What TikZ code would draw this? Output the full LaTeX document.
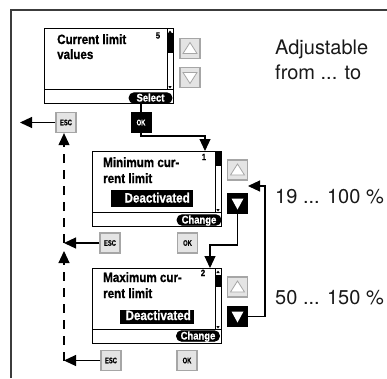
\documentclass[tikz,border=0pt]{standalone}
\usepackage{fontspec}
\setmainfont{TeX Gyre Heros}
\newfontfamily\cond[FakeStretch=0.86,FakeBold=0.8]{Liberation Sans Bold}
\newfontfamily\condx[FakeStretch=0.72,FakeBold=0.6]{Liberation Sans Bold}
\usetikzlibrary{arrows.meta}
\definecolor{btnfill}{HTML}{E4E4E4}
\definecolor{btnline}{HTML}{A6A6A6}
\definecolor{framec}{HTML}{3C3C3C}
\newcommand\lcdscreen[5]{%
  \node[scr] (#1) at (#2,#3) {};
  \draw[line width=1.2pt] (#2,#3+61.5) -- (#2+129,#3+61.5);
  \draw[line width=0.9pt] (#2+123,#3) rectangle (#2+129,#3+61.5);
  \fill (#2+123,#3+#4) rectangle (#2+129,#3+#5);
  \fill (#2+124.3,#3+58) -- (#2+127.7,#3+58) -- (#2+126,#3+60.5) -- cycle;
}
\begin{document}
\begin{tikzpicture}[x=1pt,y=-1pt,
  scr/.style={draw, line width=1.2pt, minimum width=129pt, minimum height=75pt, inner sep=0pt, anchor=north west},
  gbtn/.style={draw=btnline, fill=btnfill, line width=1.3pt, minimum width=20pt, minimum height=20pt, inner sep=0pt, font=\condx\fontsize{8}{8}\selectfont},
  kbtn/.style={fill=black, text=white, minimum width=21pt, minimum height=21pt, inner sep=0pt, font=\condx\fontsize{8}{8}\selectfont},
  pill/.style={fill=black, text=white, draw=black, line width=0.8pt, rounded corners=5pt, inner sep=0pt, minimum height=10.5pt, text height=7.5pt, text depth=0.5pt, font=\cond\fontsize{11}{11}\selectfont},
  lbl/.style={anchor=base west, inner sep=0pt, font=\cond\fontsize{13.5}{15}\selectfont},
  num/.style={anchor=base, inner sep=0pt, font=\cond\fontsize{9}{9}\selectfont},
  big/.style={anchor=base west, inner sep=0pt, text=black!90, font=\fontsize{20}{24}\selectfont},
  arr/.style={-{Triangle[length=12pt,width=11pt]}, line width=1.1pt},
  conn/.style={line width=1.1pt},
  dsh/.style={line width=1.1pt, dash pattern=on 9pt off 7pt}]
\useasboundingbox (0,0) rectangle (387,378);
% frame
\draw[framec, line width=2pt] (10.5,378) -- (10.5,9.5) -- (387,9.5);

% screens
\lcdscreen{s1}{44}{28}{5}{25}
\fill (168.3,33) -- (171.7,33) -- (170,30.5) -- cycle;
\lcdscreen{s2}{92}{151}{0}{15}
\lcdscreen{s3}{92}{268}{7}{19}
\fill (216.3,273) -- (219.7,273) -- (218,270.5) -- cycle;

% screen texts
\node[lbl] (t1a) at (57,44) {Current limit};
\node[lbl] (t1b) at (57,59) {values};
\node[num] (n1) at (158,38.5) {5};
\node[pill, minimum width=43pt] (sel) at (150.5,98) {Select};

\node[lbl] (t2a) at (103,167) {Minimum cur-};
\node[lbl] (t2b) at (103,183) {rent limit};
\node[num] (n2) at (204,160) {1};
\fill (111,189.5) rectangle (193,206.5);
\node[lbl, anchor=base east, text=white] (d2) at (190,202.5) {Deactivated};
\node[pill, minimum width=44pt] (ch2) at (199,220) {Change};

\node[lbl] (t3a) at (103,282) {Maximum cur-};
\node[lbl] (t3b) at (103,298) {rent limit};
\node[num] (n3) at (203,276) {2};
\fill (120,309.5) rectangle (194,323.5);
\node[lbl, anchor=base east, text=white] (d3) at (191,320) {Deactivated};
\node[pill, minimum width=43pt] (ch3) at (198,336) {Change};

% up/down buttons
\node[gbtn] (u1) at (190,48.5) {};
\node[gbtn] (v1) at (190,77.5) {};
\draw[btnline, fill=white, line width=0.8pt] ([shift={(-7pt,-5pt)}]u1.center) -- ([shift={(7pt,-5pt)}]u1.center) -- ([shift={(0pt,6pt)}]u1.center) -- cycle;
\draw[btnline, fill=white, line width=0.8pt] ([shift={(-7pt,5pt)}]v1.center) -- ([shift={(7pt,5pt)}]v1.center) -- ([shift={(0pt,-6pt)}]v1.center) -- cycle;

\node[gbtn] (u2) at (237.5,170) {};
\draw[btnline, fill=white, line width=0.8pt] ([shift={(-7pt,-5pt)}]u2.center) -- ([shift={(7pt,-5pt)}]u2.center) -- ([shift={(0pt,6pt)}]u2.center) -- cycle;
\node[kbtn] (k2) at (237.5,203.5) {};
\fill[white] ([shift={(-6pt,5pt)}]k2.center) -- ([shift={(6pt,5pt)}]k2.center) -- ([shift={(0pt,-6pt)}]k2.center) -- cycle;

\node[gbtn] (u3) at (237.5,287) {};
\draw[btnline, fill=white, line width=0.8pt] ([shift={(-7pt,-5pt)}]u3.center) -- ([shift={(7pt,-5pt)}]u3.center) -- ([shift={(0pt,6pt)}]u3.center) -- cycle;
\node[kbtn] (k3) at (237.5,316.5) {};
\fill[white] ([shift={(-6pt,5pt)}]k3.center) -- ([shift={(6pt,5pt)}]k3.center) -- ([shift={(0pt,-6pt)}]k3.center) -- cycle;

% ESC / OK buttons
\node[gbtn] (e1) at (66,122.5) {ESC};
\node[kbtn] (o1) at (141,122.5) {OK};
\node[gbtn] (e2) at (110,243) {ESC};
\node[gbtn] (o2) at (187.5,243) {OK};
\node[gbtn] (e3) at (111,360.5) {ESC};
\node[gbtn] (o3) at (187,360.5) {OK};

% right texts
\node[big] (a1) at (275,54) {Adjustable};
\node[big] (a2) at (275,79) {from ... to};
\node[big] (r2) at (275,203) {19 ... 100 \%};
\node[big] (r3) at (275,304) {50 ... 150 \%};

% coordinates
\coordinate (esc1tip) at (20,122.5);
\coordinate (c1) at (205,136);
\coordinate (d2a) at (64,243);
\coordinate (d3a) at (64,360.5);
\coordinate (d3tip) at (64,251);
\coordinate (c2) at (210,245);
\coordinate (c3) at (265,186);
\coordinate (t2) at (248,186);

% connectors
\draw[conn] (o1.north) -- (o1.north |- sel.south);
\draw[arr] (e1.west) -- (esc1tip);
\draw[arr] (o1.south) |- (c1) -- (c1 |- s2.north);
\draw[arr] (e2.west) -- (d2a);
\draw[dsh, -{Triangle[length=12pt,width=11pt]}] (d2a) -- (d2a |- e1.south);
\draw[arr] (e3.west) -- (d3a);
\draw[dsh, -{Triangle[length=12pt,width=11pt]}] (d3a) -- (d3tip);
\draw[arr] (k2.south) |- (c2) -- (c2 |- s3.north);
\draw[arr] (k3.east) -| (c3) -- (t2);
\end{tikzpicture}
\end{document}
